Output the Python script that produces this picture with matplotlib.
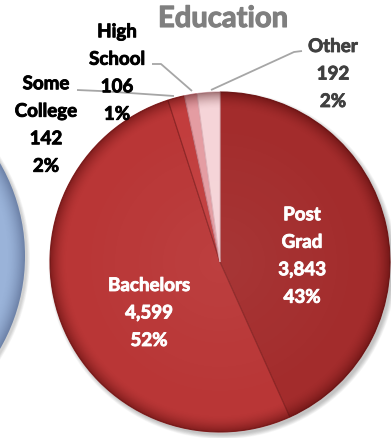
import numpy as np
import matplotlib
matplotlib.use("Agg")
import matplotlib.pyplot as plt
from matplotlib.patches import Circle
import matplotlib.patheffects as pe

# Education breakdown
categories = ["Post Grad", "Bachelors", "Some College", "High School", "Other"]
label_names = ["Post\nGrad", "Bachelors", "Some\nCollege", "High\nSchool", "Other"]
counts = [3843, 4599, 142, 106, 192]
title = "Education"

W, H = 391, 439
FONT = ["Lato", "DejaVu Sans"]

fig = plt.figure(figsize=(W / 100, H / 100), dpi=100)
ax = fig.add_axes([0, 0, 1, 1])

def Y(y):
    return H - y

cx, cy, R = 220, Y(263), 170

# neighbouring (cropped) pie on the left edge
bcx, bcy, bR = -160, Y(257), 185
for k in range(6):
    ax.add_patch(Circle((bcx + 2, bcy - 2), bR + 3 - k * 0.6, color="#000000",
                        alpha=0.03, lw=0, zorder=0))
blue = Circle((bcx, bcy), bR, color="#9AB3D9", lw=0, zorder=1)
ax.add_patch(blue)

# soft drop shadow beneath the main pie
for k in range(8):
    ax.add_patch(Circle((cx + 2.5, cy - 3), R + 4 - k * 0.6, color="#000000",
                        alpha=0.03, lw=0, zorder=1))

colors = ["#A32C2C", "#B93636", "#C23D3D", "#E49CA2", "#F5D4D8"]
edges = ["#7E2020", "#8E2626", "#8E2626", "#C98088", "#E0B6BC"]
wedges, _ = ax.pie(counts, colors=colors, startangle=90, counterclock=False,
                   center=(cx, cy), radius=R, frame=True,
                   wedgeprops=dict(linewidth=0.8))
for w, ec in zip(wedges, edges):
    w.set_edgecolor(ec)
    w.set_zorder(2)

# rim darkening to give the disks a rounded look
def shade(ccx, ccy, rr, strength, zorder, clip, tint=(0.25, 0.0, 0.0)):
    n = 500
    xs = np.linspace(-1, 1, n)
    xx, yy = np.meshgrid(xs, xs)
    r = np.sqrt(xx ** 2 + yy ** 2)
    a = np.clip((r - 0.90) / 0.10, 0, 1) ** 1.8 * strength
    hl = np.clip(1 - r / 0.9, 0, 1) * 0.05
    img = np.zeros((n, n, 4))
    img[..., :3] = tint
    img[..., 3] = a
    im = ax.imshow(img, extent=(ccx - rr, ccx + rr, ccy - rr, ccy + rr),
                   origin="lower", zorder=zorder, interpolation="bilinear")
    im.set_clip_path(clip)
    img2 = np.ones((n, n, 4))
    img2[..., 3] = hl
    im2 = ax.imshow(img2, extent=(ccx - rr, ccx + rr, ccy - rr, ccy + rr),
                    origin="lower", zorder=zorder, interpolation="bilinear")
    im2.set_clip_path(clip)

clip_main = Circle((cx, cy), R, transform=ax.transData)
shade(cx, cy, R, 0.45, 3, clip_main)
clip_blue = Circle((bcx, bcy), bR, transform=ax.transData)
shade(bcx, bcy, bR, 0.35, 1.5, clip_blue, tint=(0.1, 0.15, 0.3))

total = sum(counts)
labels = [f"{n}\n{v:,}\n{round(v / total * 100):.0f}%" for n, v in zip(label_names, counts)]

# label anchor positions and styles
label_pos = [(302, 257), (149, 314), (46, 126), (117, 74), (333, 75)]
label_col = ["white", "white", "black", "black", "#404040"]
for txt, (lx, ly), col in zip(labels, label_pos, label_col):
    ax.text(lx, Y(ly), txt, ha="center", va="center", color=col,
            fontsize=13.5, fontweight="bold", family=FONT, linespacing=1.75,
            zorder=5, path_effects=[pe.withStroke(linewidth=0.6, foreground=col)])

# leader lines for the small slices
leaders = [
    [(77, 91), (100, 92), (174, 97)],
    [(152, 65), (161, 65), (192, 92)],
    [(302, 52), (294, 53), (211, 91)],
]
for pts in leaders:
    xs_, ys_ = zip(*pts)
    ax.plot(xs_, [Y(v) for v in ys_], color="#A6A6A6", lw=1.3, zorder=4,
            solid_capstyle="butt")

ax.text(223, Y(20), title, ha="center", va="center", color="#7F7F7F",
        fontsize=21, fontweight="bold", family=FONT, zorder=5,
        path_effects=[pe.withStroke(linewidth=0.8, foreground="#7F7F7F")])

ax.set_xlim(0, W)
ax.set_ylim(0, H)
ax.set_aspect("equal")
ax.axis("off")
fig.savefig("out.png", dpi=100)
